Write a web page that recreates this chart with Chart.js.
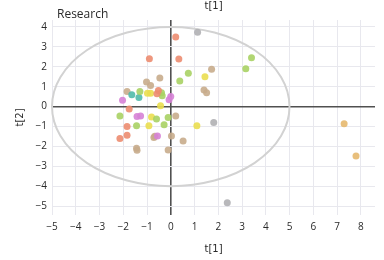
<!DOCTYPE html>
<html>
<head>
<meta charset="utf-8">
<script src="https://cdn.jsdelivr.net/npm/chart.js@4/dist/chart.umd.min.js"></script>
<style>
  html, body { margin: 0; padding: 0; background: #fff; }
  #wrap { width: 384px; height: 260px; }
</style>
</head>
<body>
<div id="wrap"><canvas id="scoreChart"></canvas></div>
<script>
// score points t[1], t[2] grouped by colour
const salmonX = [-0.9, 0.34, 0.21, -0.52, -0.58, -1.75, -1.84, -2.14, -1.84];
const salmonY = [2.4, 2.39, 3.5, 0.81, 0.64, -0.12, -1.0, -1.6, -1.44];
const greenX = [-1.3, -0.39, -0.36, -2.14, -0.6, -0.11, -1.44, -0.28, 3.4, 3.16, 0.74, 0.38];
const greenY = [0.76, 0.7, 0.54, -0.47, -0.62, -0.55, -0.96, -0.92, 2.45, 1.9, 1.68, 1.29];
const yellowX = [-0.98, -0.85, 1.44, -0.81, -0.92, 1.1, -0.43];
const yellowY = [0.67, 0.67, 1.5, -0.53, -0.96, -0.97, 0.04];
const tealX = [-1.64, -1.34];
const tealY = [0.59, 0.45];
const pinkX = [-2.03, -1.42, -1.27, -0.07, 0.0, -0.56];
const pinkY = [0.32, -0.5, -0.47, 0.34, 0.5, -1.48];
const tanX = [-0.46, -1.02, -0.85, -1.84, 1.72, 0.21, 0.03, -0.71, -0.67, -1.44, -1.42, -0.11, 1.4, 1.51, 0.52];
const tanY = [1.43, 1.23, 1.06, 0.76, 1.88, -0.47, -1.48, -1.56, -1.49, -2.1, -2.2, -2.18, 0.83, 0.69, -1.73];
const grayX = [1.13, 1.81, 2.38];
const grayY = [3.73, -0.8, -4.84];
const outlierX = [7.3, 7.8];
const outlierY = [-0.87, -2.48];

const xTicks = [-5, -4, -3, -2, -1, 0, 1, 2, 3, 4, 5, 6, 7, 8];
const yTicks = [-5, -4, -3, -2, -1, 0, 1, 2, 3, 4];
// Hotelling T2 ellipse half-axes
const ellipseA = 5;
const ellipseB = 4;

function pts(xs, ys) {
  return xs.map(function(x, i) { return { x: x, y: ys[i] }; });
}

function series(xs, ys, color) {
  return {
    data: pts(xs, ys),
    backgroundColor: color,
    borderColor: color,
    borderWidth: 0,
    pointRadius: 3.5
  };
}

const ellipsePlugin = {
  id: "ellipse",
  beforeDatasetsDraw: function(chart) {
    var xs = chart.scales.x, ys = chart.scales.y, ctx = chart.ctx;
    var cx = xs.getPixelForValue(0), cy = ys.getPixelForValue(0);
    var rx = xs.getPixelForValue(ellipseA) - cx;
    var ry = cy - ys.getPixelForValue(ellipseB);
    ctx.save();
    ctx.beginPath();
    ctx.ellipse(cx, cy, rx, ry, 0, 0, Math.PI * 2);
    ctx.strokeStyle = "#d2d2d2";
    ctx.lineWidth = 2;
    ctx.stroke();
    ctx.restore();
  },
  afterDraw: function(chart) {
    var ctx = chart.ctx;
    ctx.save();
    ctx.font = "12px 'Open Sans', sans-serif";
    ctx.fillStyle = "#2a2a2a";
    ctx.textBaseline = "middle";
    ctx.fillText("Research", chart.chartArea.left + 5, 15);
    ctx.restore();
  }
};

function gridColor(c) { return c.tick && c.tick.value === 0 ? "#505050" : "#e8e8ee"; }
function gridWidth(c) { return c.tick && c.tick.value === 0 ? 1.6 : 1; }
function minusLabel(v) { return String(v).replace("-", "\u2212"); }

new Chart(document.getElementById("scoreChart"), {
  type: "scatter",
  data: {
    datasets: [
      series(salmonX, salmonY, "rgba(236,140,112,0.9)"),
      series(greenX, greenY, "rgba(168,210,100,0.9)"),
      series(yellowX, yellowY, "rgba(234,222,80,0.9)"),
      series(tealX, tealY, "rgba(80,186,170,0.9)"),
      series(pinkX, pinkY, "rgba(214,130,214,0.9)"),
      series(tanX, tanY, "rgba(200,172,140,0.9)"),
      series(grayX, grayY, "rgba(176,176,180,0.9)"),
      series(outlierX, outlierY, "rgba(230,184,110,0.9)")
    ]
  },
  options: {
    responsive: true,
    maintainAspectRatio: false,
    animation: false,
    layout: { padding: { left: 0, right: 9, top: 0, bottom: 0 } },
    scales: {
      x: {
        type: "linear",
        min: -5,
        max: 8.6,
        afterBuildTicks: function(s) { s.ticks = xTicks.map(function(v) { return { value: v }; }); },
        afterFit: function(s) { s.height = 45; },
        border: { display: false },
        grid: { color: gridColor, lineWidth: gridWidth, drawTicks: false },
        ticks: { color: "#2a2a2a", padding: 6, callback: minusLabel, font: { size: 10, family: "'Open Sans', sans-serif" } },
        title: { display: true, text: "t[1]", color: "#2a2a2a", padding: { top: 0, bottom: 5 }, font: { size: 10, family: "'DejaVu Sans', sans-serif" } }
      },
      x2: {
        type: "linear",
        position: "top",
        min: -5,
        max: 8.6,
        afterFit: function(s) { s.height = 20; },
        border: { display: false },
        grid: { display: false, drawTicks: false },
        ticks: { display: false },
        title: { display: true, text: "t[1]", color: "#2a2a2a", padding: 0, font: { size: 10, family: "'DejaVu Sans', sans-serif" } }
      },
      y: {
        type: "linear",
        min: -5.45,
        max: 4.35,
        afterBuildTicks: function(s) { s.ticks = yTicks.map(function(v) { return { value: v }; }); },
        afterFit: function(s) { s.width = 52; },
        border: { display: false },
        grid: { color: gridColor, lineWidth: gridWidth, drawTicks: false },
        ticks: { color: "#2a2a2a", padding: 5, callback: minusLabel, font: { size: 10, family: "'Open Sans', sans-serif" } },
        title: { display: true, text: "t[2]", color: "#2a2a2a", padding: { top: 14, bottom: 0 }, font: { size: 10, family: "'DejaVu Sans', sans-serif" } }
      }
    },
    plugins: {
      legend: { display: false },
      tooltip: { enabled: false }
    }
  },
  plugins: [ellipsePlugin]
});
</script>
</body>
</html>
